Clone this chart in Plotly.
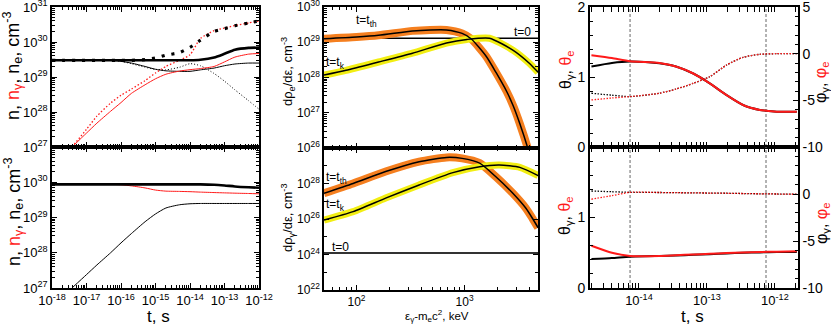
"""Six-panel figure: densities vs time, spectra vs energy, temperatures/potentials vs time."""

import plotly.graph_objects as go

# ---------------- left column: n, n_gamma, n_e (cm^-3) vs t (s) ----------------
T_GRID = [1e-18, 2e-18, 5e-18, 1e-17, 2e-17, 5e-17, 1e-16, 2e-16, 5e-16, 1e-15,
          2e-15, 5e-15, 1e-14, 2e-14, 5e-14, 1e-13, 2e-13, 5e-13, 1e-12]
T_RISE = [3.8e-18, 1e-17, 2e-17, 5e-17, 1e-16, 2e-16, 5e-16, 1e-15, 2e-15,
          5e-15, 1e-14, 2e-14, 5e-14, 1e-13, 2e-13, 5e-13, 1e-12]

# top panel
N_TOT_TOP = [3.0e29, 3.0e29, 3.0e29, 3.0e29, 3.0e29, 3.0e29, 3.0e29, 3.0e29, 3.0e29, 3.0e29,
             3.0e29, 3.0e29, 3.0e29, 3.1e29, 3.6e29, 4.6e29, 6.0e29, 6.8e29, 6.9e29]
N_TOT_TOP_B = [3.0e29, 3.0e29, 3.0e29, 3.0e29, 3.0e29, 3.0e29, 3.0e29, 3.0e29, 3.15e29, 3.5e29,
               4.2e29, 5.0e29, 7.0e29, 1.12e30, 2.0e30, 2.4e30, 2.9e30, 3.5e30, 4.0e30]
N_E_TOP = [3.0e29, 3.0e29, 3.0e29, 3.0e29, 3.0e29, 3.0e29, 2.8e29, 2.5e29, 2.0e29, 1.66e29,
           1.5e29, 1.45e29, 1.45e29, 1.6e29, 1.8e29, 2.1e29, 2.35e29, 2.5e29, 2.5e29]
N_E_TOP_B = [3.0e29, 3.0e29, 3.0e29, 3.0e29, 3.0e29, 3.0e29, 2.8e29, 2.4e29, 1.9e29, 1.66e29,
             1.6e29, 1.9e29, 2.4e29, 2.1e29, 1.26e29, 7.6e28, 4.3e28, 2.1e28, 1.2e28]
N_G_TOP = [1.0e27, 2.5e27, 4.8e27, 1.05e28, 1.86e28, 3.4e28, 6.0e28, 8.9e28, 1.2e29,
           1.48e29, 1.62e29, 1.74e29, 2.0e29, 2.7e29, 3.7e29, 4.5e29, 4.7e29]
N_G_TOP_B = [1.0e27, 3.2e27, 7.6e27, 1.8e28, 3.0e28, 4.5e28, 7.9e28, 1.3e29, 2.0e29,
             3.0e29, 4.3e29, 1.26e30, 2.1e30, 2.5e30, 2.95e30, 3.5e30, 4.0e30]

# bottom panel
N_TOT_BOT = [8.7e29, 8.7e29, 8.7e29, 8.7e29, 8.7e29, 8.7e29, 8.7e29, 8.7e29, 8.7e29, 8.7e29,
             8.7e29, 8.7e29, 8.7e29, 8.7e29, 8.5e29, 8.1e29, 7.6e29, 7.2e29, 7.0e29]
N_G_BOT = [8.7e29, 8.7e29, 8.7e29, 8.7e29, 8.7e29, 8.7e29, 8.5e29, 7.9e29, 6.9e29, 6.0e29,
           5.6e29, 5.5e29, 5.4e29, 5.25e29, 5.1e29, 5.0e29, 4.9e29, 4.8e29, 4.7e29]
N_E_BOT = [1.0e27, 2.4e27, 4.5e27, 1.0e28, 1.9e28, 3.5e28, 7.6e28, 1.26e29, 1.86e29,
           2.3e29, 2.45e29, 2.5e29, 2.5e29, 2.5e29, 2.5e29, 2.5e29, 2.5e29]

# ---------------- middle column: spectra vs energy (keV) ----------------
E_T0 = [50, 4800]
RHO_E_T0 = [1.3e29, 1.3e29]
RHO_G_T0 = [1.2e24, 1.2e24]

E_TH_TOP = [50, 100, 160, 330, 480, 680, 950, 1150, 1585, 1950, 2455, 2820, 3240, 3890, 4270]
RHO_E_TH = [1.26e29, 1.41e29, 1.58e29, 2.1e29, 2.24e29, 2.24e29, 1.78e29, 1.26e29,
            4.0e28, 1.41e28, 4.0e27, 1.58e27, 5.0e26, 8.9e25, 3.2e25]
E_K_TOP = [50, 80, 160, 330, 680, 1050, 1700, 2800, 4000, 4800]
RHO_E_K = [1.17e28, 1.6e28, 2.75e28, 4.9e28, 9.5e28, 1.2e29, 1.3e29, 6.0e28, 2.5e28, 1.4e28]

E_TH_BOT = [50, 93, 186, 380, 680, 950, 1380, 1950, 2800, 3700, 4250, 4800]
RHO_G_TH = [2.8e27, 1.0e28, 4.7e28, 1.7e29, 2.95e29, 2.6e29, 1.4e29, 2.4e28,
            2.8e27, 4.0e26, 1.1e26, 3.2e25]
E_K_BOT = [50, 93, 186, 380, 780, 1380, 2100, 3250, 4800]
RHO_G_K = [8.7e25, 2.6e26, 1.5e27, 8.3e27, 4.1e28, 8.9e28, 1.1e29, 8.1e28, 2.8e28]

# ---------------- right column: theta (left axis), phi (right axis) vs t ----------------
T_R = [2.0e-15, 4.0e-15, 7.4e-15, 2.0e-14, 3.5e-14, 6.3e-14, 1.1e-13, 1.95e-13,
       3.4e-13, 6.0e-13, 1.07e-12, 2.1e-12]
THETA_G_TOP = [1.15, 1.2, 1.22, 1.195, 1.15, 1.05, 0.91, 0.74, 0.6, 0.53, 0.505, 0.505]
THETA_E_TOP = [1.31, 1.27, 1.225, 1.2, 1.15, 1.05, 0.91, 0.74, 0.6, 0.53, 0.505, 0.505]
PHI_G_TOP = [-4.24, -4.45, -4.6, -4.24, -3.8, -3.17, -2.47, -1.21, -0.39, -0.07, 0.0, 0.0]
PHI_E_TOP = [-4.96, -4.75, -4.6, -4.24, -3.8, -3.17, -2.47, -1.21, -0.39, -0.07, 0.0, 0.0]
THETA_G_BOT = [0.41, 0.425, 0.445, 0.455, 0.46, 0.47, 0.48, 0.49, 0.5, 0.505, 0.51, 0.51]
THETA_E_BOT = [0.6, 0.5, 0.455, 0.455, 0.465, 0.475, 0.485, 0.495, 0.505, 0.51, 0.515, 0.52]
PHI_G_BOT = [0.32, 0.24, 0.18, 0.16, 0.14, 0.12, 0.1, 0.08, 0.05, 0.02, 0.0, -0.03]
PHI_E_BOT = [-0.56, -0.18, 0.18, 0.16, 0.14, 0.12, 0.1, 0.08, 0.05, 0.02, 0.0, -0.03]
T_MARKS = [7.4e-15, 7.4e-13]
THETA_SPAN = [0, 2]

# ---------------- tick labels ----------------
T_TICKS = [1e-18, 1e-17, 1e-16, 1e-15, 1e-14, 1e-13, 1e-12]
T_TICK_TEXT = ["10<sup>-18</sup>", "10<sup>-17</sup>", "10<sup>-16</sup>", "10<sup>-15</sup>",
               "10<sup>-14</sup>", "10<sup>-13</sup>", "10<sup>-12</sup>"]
N_TICKS = [1e27, 1e28, 1e29, 1e30, 1e31]
N_TICK_TEXT_TOP = ["10<sup>27</sup>", "10<sup>28</sup>", "10<sup>29</sup>", "10<sup>30</sup>", "10<sup>31</sup>"]
N_TICK_TEXT_BOT = ["10<sup>27</sup>", "10<sup>28</sup>", "10<sup>29</sup>", "10<sup>30</sup>", ""]
E_TICKS = [100, 1000]
E_TICK_TEXT = ["10<sup>2</sup>", "10<sup>3</sup>"]
RHO_TICKS_TOP = [1e26, 1e27, 1e28, 1e29, 1e30]
RHO_TICK_TEXT_TOP = ["10<sup>26</sup>", "10<sup>27</sup>", "10<sup>28</sup>", "10<sup>29</sup>", "10<sup>30</sup>"]
RHO_TICKS_BOT = [1e22, 1e24, 1e26, 1e28, 1e30]
RHO_TICK_TEXT_BOT = ["10<sup>22</sup>", "10<sup>24</sup>", "10<sup>26</sup>", "10<sup>28</sup>", ""]
TR_TICKS = [1e-14, 1e-13, 1e-12]
TR_TICK_TEXT = ["10<sup>-14</sup>", "10<sup>-13</sup>", "10<sup>-12</sup>"]
THETA_TICKS = [0, 1, 2]
THETA_TEXT_TOP = ["0", "1", "2"]
THETA_TEXT_BOT = ["0", "1", ""]
PHI_TICKS = [-10, -5, 0, 5]
PHI_TEXT_TOP = ["-10", "-5", "0", "5"]
PHI_TEXT_BOT = ["-10", "-5", "0", ""]

RED = "#FF1A1A"
ORANGE = "#F57F1F"
YELLOW = "#F2EE12"
FONT = "Liberation Sans, Arial, sans-serif"
W, H = 831, 326


def _minor_log(lo, hi):
    return [m * 10.0 ** e for e in range(lo, hi) for m in range(2, 10)]


def _px_x(a, b):
    return [a / W, b / W]


def _px_y(top, bottom):
    return [1 - bottom / H, 1 - top / H]


def _axis_style(size=13):
    return dict(
        ticks="inside", ticklen=5, tickwidth=1, tickcolor="black",
        showline=True, linecolor="black", linewidth=1.6,
        showgrid=False, zeroline=False, automargin=False,
        ticklabeloverflow="allow",
        tickfont=dict(size=size, color="black", family=FONT),
    )


def _log_axis(domain, anchor, rng, tickvals, ticktext, minor_vals, labels=True, size=13):
    ax = _axis_style(size)
    ax.update(
        type="log", domain=domain, anchor=anchor, range=rng,
        tickmode="array", tickvals=tickvals, ticktext=ticktext,
        showticklabels=labels, mirror="allticks",
        minor=dict(tickmode="array", tickvals=minor_vals, ticks="inside",
                   ticklen=3, tickwidth=1, tickcolor="black"),
    )
    return ax


def _lin_axis(domain, anchor, rng, tickvals, ticktext, minor_dtick, side="left", overlaying=None):
    ax = _axis_style(14)
    ax.update(
        domain=domain, anchor=anchor, range=rng, side=side,
        tickmode="array", tickvals=tickvals, ticktext=ticktext,
        minor=dict(dtick=minor_dtick, ticks="inside", ticklen=3, tickwidth=1, tickcolor="black"),
    )
    if overlaying:
        ax.update(overlaying=overlaying)
    return ax


def _line(x, y, xa, ya, color="black", width=1.0, dash="solid"):
    return go.Scatter(
        x=x, y=y, xaxis=xa, yaxis=ya, mode="lines", showlegend=False,
        line=dict(color=color, width=width, dash=dash, shape="spline", smoothing=0.6),
        hoverinfo="skip",
    )


fig = go.Figure()

# left top
fig.add_trace(_line(T_GRID, N_E_TOP, "x", "y", width=1.0))
fig.add_trace(_line(T_GRID, N_E_TOP_B, "x", "y", width=1.0, dash="1px,2px"))
fig.add_trace(_line(T_RISE, N_G_TOP, "x", "y", color=RED, width=1.0))
fig.add_trace(_line(T_RISE, N_G_TOP_B, "x", "y", color=RED, width=1.3, dash="1.5px,2px"))
fig.add_trace(_line(T_GRID, N_TOT_TOP, "x", "y", width=2.6))
fig.add_trace(_line(T_GRID, N_TOT_TOP_B, "x", "y", width=3.2, dash="3px,7px"))

# left bottom
fig.add_trace(_line(T_RISE, N_E_BOT, "x2", "y2", width=1.0))
fig.add_trace(_line(T_GRID, N_G_BOT, "x2", "y2", color=RED, width=1.0))
fig.add_trace(_line(T_GRID, N_TOT_BOT, "x2", "y2", width=2.6))

# middle top
fig.add_trace(_line(E_T0, RHO_E_T0, "x3", "y3", width=1.3))
fig.add_trace(_line(E_TH_TOP, RHO_E_TH, "x3", "y3", color=ORANGE, width=8))
fig.add_trace(_line(E_K_TOP, RHO_E_K, "x3", "y3", color=YELLOW, width=7))
fig.add_trace(_line(E_TH_TOP, RHO_E_TH, "x3", "y3", width=1.5))
fig.add_trace(_line(E_K_TOP, RHO_E_K, "x3", "y3", width=1.5))

# middle bottom
fig.add_trace(_line(E_T0, RHO_G_T0, "x4", "y4", color="#333333", width=2))
fig.add_trace(_line(E_TH_BOT, RHO_G_TH, "x4", "y4", color=ORANGE, width=8))
fig.add_trace(_line(E_K_BOT, RHO_G_K, "x4", "y4", color=YELLOW, width=7))
fig.add_trace(_line(E_TH_BOT, RHO_G_TH, "x4", "y4", width=1.5))
fig.add_trace(_line(E_K_BOT, RHO_G_K, "x4", "y4", width=1.5))

# right column: markers at t_k and t_th
for xa, ya in (("x5", "y5"), ("x6", "y6")):
    for tm in T_MARKS:
        fig.add_trace(go.Scatter(
            x=[tm, tm], y=THETA_SPAN, xaxis=xa, yaxis=ya, mode="lines", showlegend=False,
            line=dict(color="#666666", width=1, dash="3px,2px"), hoverinfo="skip",
        ))

fig.add_trace(_line(T_R, PHI_G_TOP, "x5", "y7", width=1.3, dash="1.5px,1.5px"))
fig.add_trace(_line(T_R, PHI_E_TOP, "x5", "y7", color=RED, width=1.3, dash="1.5px,1.5px"))
fig.add_trace(_line(T_R, THETA_G_TOP, "x5", "y5", width=2))
fig.add_trace(_line(T_R, THETA_E_TOP, "x5", "y5", color=RED, width=2))

fig.add_trace(_line(T_R, PHI_G_BOT, "x6", "y8", width=1.3, dash="1.5px,1.5px"))
fig.add_trace(_line(T_R, PHI_E_BOT, "x6", "y8", color=RED, width=1.3, dash="1.5px,1.5px"))
fig.add_trace(_line(T_R, THETA_G_BOT, "x6", "y6", width=2))
fig.add_trace(_line(T_R, THETA_E_BOT, "x6", "y6", color=RED, width=2))

# ---------------- axes ----------------
LX, MX, RX = _px_x(52, 259), _px_x(324, 538), _px_x(590, 798)
TOP, BOT = _px_y(7, 147), _px_y(147, 288)
MTOP, MBOT = _px_y(7, 148), _px_y(148, 290)

t_minor = _minor_log(-18, -12)
n_minor = _minor_log(27, 31)
e_minor = [m * 10.0 for m in range(5, 10)] + _minor_log(2, 4)
rho_minor_top = _minor_log(26, 30)
rho_minor_bot = [10.0 ** e for e in (23, 25, 27, 29)]
tr_minor = _minor_log(-15, -11)

fig.update_layout(
    width=W, height=H, autosize=False,
    margin=dict(l=0, r=0, t=0, b=0, autoexpand=False),
    paper_bgcolor="white", plot_bgcolor="white",
    font=dict(family=FONT, color="black"),
    xaxis=_log_axis(LX, "y", [-18, -12], T_TICKS, T_TICK_TEXT, t_minor, labels=False),
    yaxis=_log_axis(TOP, "x", [27, 31], N_TICKS, N_TICK_TEXT_TOP, n_minor),
    xaxis2=_log_axis(LX, "y2", [-18, -12], T_TICKS, T_TICK_TEXT, t_minor),
    yaxis2=_log_axis(BOT, "x2", [27, 31], N_TICKS, N_TICK_TEXT_BOT, n_minor),
    xaxis3=_log_axis(MX, "y3", [1.699, 3.68], E_TICKS, E_TICK_TEXT, e_minor, labels=False, size=12),
    yaxis3=_log_axis(MTOP, "x3", [26, 30], RHO_TICKS_TOP, RHO_TICK_TEXT_TOP, rho_minor_top, size=12),
    xaxis4=_log_axis(MX, "y4", [1.699, 3.68], E_TICKS, E_TICK_TEXT, e_minor, size=12),
    yaxis4=_log_axis(MBOT, "x4", [22, 30], RHO_TICKS_BOT, RHO_TICK_TEXT_BOT, rho_minor_bot, size=12),
    xaxis5=_log_axis(RX, "y5", [-14.72, -11.66], TR_TICKS, TR_TICK_TEXT, tr_minor, labels=False),
    yaxis5=_lin_axis(TOP, "x5", [0, 2], THETA_TICKS, THETA_TEXT_TOP, 0.2),
    xaxis6=_log_axis(RX, "y6", [-14.72, -11.66], TR_TICKS, TR_TICK_TEXT, tr_minor),
    yaxis6=_lin_axis(BOT, "x6", [0, 2], THETA_TICKS, THETA_TEXT_BOT, 0.2),
    yaxis7=_lin_axis(TOP, "x5", [-10, 5], PHI_TICKS, PHI_TEXT_TOP, 1, side="right", overlaying="y5"),
    yaxis8=_lin_axis(BOT, "x6", [-10, 5], PHI_TICKS, PHI_TEXT_BOT, 1, side="right", overlaying="y6"),
)

# ---------------- titles and labels ----------------
RED_SPAN = "<span style='color:" + RED + "'>{}</span>"
N_TITLE = "n, " + RED_SPAN.format("n<sub>γ</sub>") + ", n<sub>e</sub>, cm<sup>-3</sup>"
THETA_TITLE = "θ<sub>γ</sub>, " + RED_SPAN.format("θ<sub>e</sub>")
PHI_TITLE = "φ<sub>γ</sub>, " + RED_SPAN.format("φ<sub>e</sub>")


def _title(text, x, y, size, angle=0):
    fig.add_annotation(
        text=text, x=x / W, y=1 - y / H, xref="paper", yref="paper",
        showarrow=False, textangle=angle, xanchor="center", yanchor="middle",
        font=dict(size=size, color="black", family=FONT),
    )


_title(N_TITLE, 13, 66, 18, -90)
_title(N_TITLE, 13, 212, 18, -90)
_title("t, s", 158, 316, 17)
_title("dρ<sub>e</sub>/dε, cm<sup>-3</sup>", 288, 72, 13, -90)
_title("dρ<sub>γ</sub>/dε, cm<sup>-3</sup>", 288, 218, 13, -90)
_title("ε<sub>γ</sub>-m<sub>e</sub>c<sup>2</sup>, keV", 437, 316, 11.5)
_title(THETA_TITLE, 566, 70, 16, -90)
_title(THETA_TITLE, 566, 216, 16, -90)
_title(PHI_TITLE, 822, 83, 16, -90)
_title(PHI_TITLE, 822, 224, 16, -90)
_title("t, s", 692, 316, 17)


def _curve_label(text, xa, ya, x, y):
    fig.add_annotation(
        text=text, x=x, y=y, xref=xa + " domain", yref=ya + " domain",
        showarrow=False, xanchor="left", yanchor="middle",
        font=dict(size=12, color="black", family=FONT),
    )


_curve_label("t=t<sub>th</sub>", "x3", "y3", 0.14, 0.9)
_curve_label("t=0", "x3", "y3", 0.88, 0.82)
_curve_label("t=t<sub>k</sub>", "x3", "y3", 0.0, 0.6)
_curve_label("t=t<sub>th</sub>", "x4", "y4", 0.0, 0.79)
_curve_label("t=t<sub>k</sub>", "x4", "y4", 0.0, 0.6)
_curve_label("t=0", "x4", "y4", 0.03, 0.3)

# the page body has a default 8px margin; drop it so the figure fills the window
fig.write_html(
    "out.html",
    config={"displayModeBar": False},
    post_script="document.body.style.margin = '0';",
)
